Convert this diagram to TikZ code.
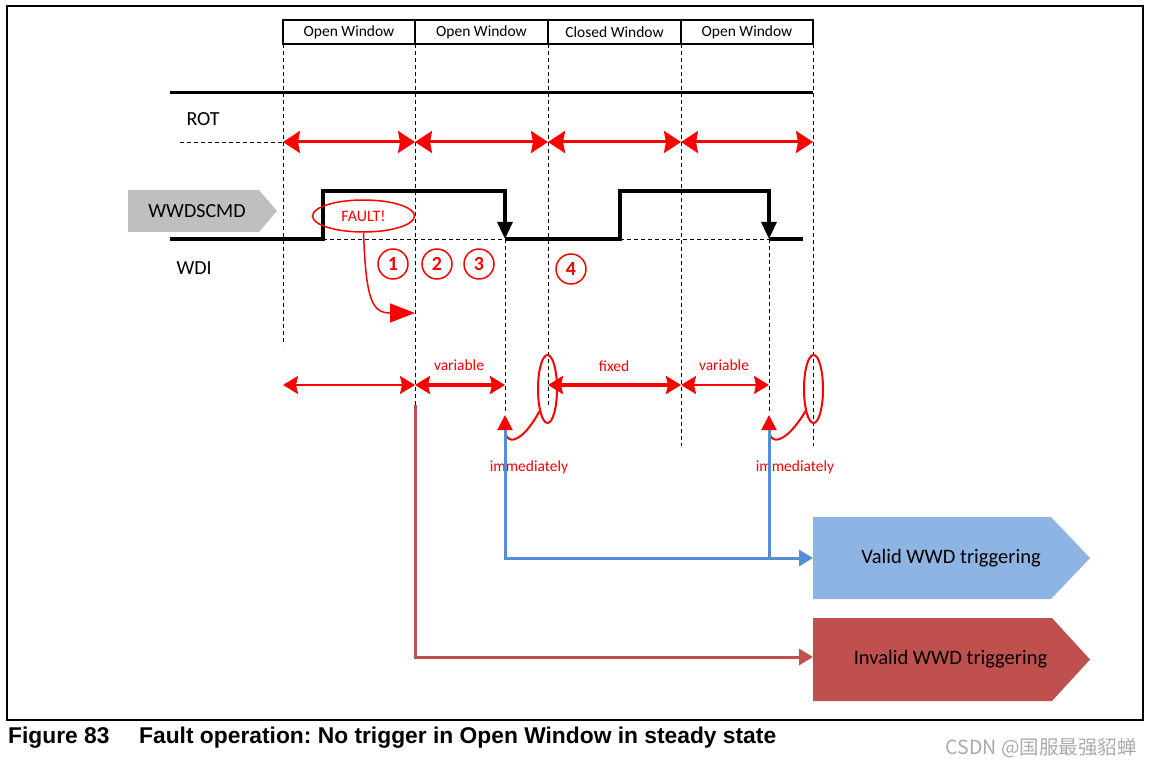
\documentclass[tikz,border=0pt]{standalone}
\usepackage{fontspec}
\setmainfont{Carlito}
\newfontfamily\capfont{Liberation Sans}
\newfontfamily\cjkfont{Noto Sans CJK SC}
\usetikzlibrary{arrows.meta,shapes.geometric}
\definecolor{wwdgrey}{RGB}{191,191,191}
\definecolor{validfill}{RGB}{142,180,227}
\definecolor{invalidfill}{RGB}{192,80,77}
\definecolor{blueline}{RGB}{85,142,213}
\definecolor{redline}{RGB}{192,80,77}
\definecolor{wmgrey}{RGB}{170,170,170}
\frenchspacing
\tikzset{
  dashln/.style={line width=0.9pt,dash pattern=on 4pt off 3pt},
  sig/.style={line width=3.2pt,line join=miter},
  sigarrow/.style={sig,-{Triangle[length=17pt,width=15pt]}},
  toparrow/.style={red,line width=3pt,{Stealth[length=17pt,width=22pt,inset=2pt]}-{Stealth[length=17pt,width=22pt,inset=2pt]}},
  thickdbl/.style={red,line width=4pt,{Stealth[length=15pt,width=18pt,inset=2pt]}-{Stealth[length=15pt,width=18pt,inset=2pt]}},
  thindbl/.style={red,line width=2pt,{Stealth[length=15pt,width=18pt,inset=2pt]}-{Stealth[length=15pt,width=18pt,inset=2pt]}},
  numcirc/.style={circle,draw=red,line width=1.5pt,minimum size=30pt,inner sep=0pt,text=red,font=\fontsize{20}{22}\selectfont\bfseries},
  redlbl/.style={text=red,font=\fontsize{15.5}{18}\selectfont},
  hdr/.style={font=\fontsize{15.5}{18}\selectfont},
  siglbl/.style={font=\fontsize{20}{24}\selectfont,anchor=west},
  vell/.style={ellipse,draw=red,line width=2pt,minimum width=19pt,minimum height=68pt,inner sep=0pt},
  upcurve/.style={red,line width=2pt,-{Triangle[length=15pt,width=15pt]}},
  conn/.style={line width=3pt,-{Triangle[length=14pt,width=16pt]}},
  outbox/.style={font=\fontsize{20.5}{24}\selectfont},
  captxt/.style={anchor=west,font=\capfont\bfseries\fontsize{22.8}{26}\selectfont,inner sep=0pt}
}
\begin{document}
\begin{tikzpicture}[x=1pt,y=-1pt]
\useasboundingbox (0,0) rectangle (1152,767);
% frame
\draw[line width=1.3pt] (7,6) rectangle (1143,720);
% header table
\draw[line width=1.2pt] (283,20) rectangle (813,44);
\foreach \xx in {415,548,681} \draw[line width=1.2pt] (\xx,20) -- (\xx,44);
\node[hdr] (h1) at (349,32) {Open Window};
\node[hdr] (h2) at (481.5,32) {Open Window};
\node[hdr] (h3) at (614.5,32) {Closed Window};
\node[hdr] (h4) at (747,32) {Open Window};
% dashed verticals
\draw[dashln] (283,44) -- (283,345);
\draw[dashln] (415,44) -- (415,405);
\draw[dashln] (548,44) -- (548,405);
\draw[dashln] (681,44) -- (681,446);
\draw[dashln] (813,44) -- (813,446);
\draw[dashln] (505,239) -- (505,413);
\draw[dashln] (769,239) -- (769,413);
% ROT
\draw[line width=3pt] (170,93) -- (813,93);
\node[siglbl] (rot) at (183,119) {ROT};
\draw[dashln] (180,142) -- (283,142);
\coordinate (t0) at (283,142);
\coordinate (t1) at (415,142);
\coordinate (t2) at (548,142);
\coordinate (t3) at (681,142);
\coordinate (t4) at (813,142);
\draw[toparrow] (t0) -- (t1);
\draw[toparrow] (t1) -- (t2);
\draw[toparrow] (t2) -- (t3);
\draw[toparrow] (t3) -- (t4);
% WWDSCMD pentagon
\fill[wwdgrey] (128,190) -- (259,190) -- (277,211) -- (259,232) -- (128,232) -- cycle;
\node[font=\fontsize{20}{24}\selectfont] (wwd) at (197,211) {WWDSCMD};
% WDI signal
\draw[dashln] (323,239) -- (505,239);
\draw[dashln] (620,239) -- (769,239);
\coordinate (s0) at (170,239);
\coordinate (s1) at (323,239);
\coordinate (s2) at (323,191);
\coordinate (s3) at (505,191);
\coordinate (s4) at (505,239);
\coordinate (s5) at (620,239);
\coordinate (s6) at (620,191);
\coordinate (s7) at (769,191);
\coordinate (s8) at (769,239);
\coordinate (s9) at (803,239);
\draw[sigarrow] (s0) -- (s1) -- (s2) -- (s3) -- (s4);
\draw[sigarrow] (s4) -- (s5) -- (s6) -- (s7) -- (s8);
\draw[sig] (s8) -- (s9);
\node[siglbl] (wdi) at (173,268) {WDI};
% FAULT
\node[ellipse,draw=red,line width=1.5pt,minimum width=102pt,minimum height=32pt,inner sep=0pt,text=red,font=\fontsize{16}{18}\selectfont] (fault) at (363.5,216) {FAULT!};
\coordinate (fend) at (415,313);
\draw[red,line width=1.5pt,-{Triangle[length=25pt,width=19pt]}] (fault.south) .. controls (366,300) and (372,313) .. (fend);
% numbers
\node[numcirc] (n1) at (393,264) {1};
\node[numcirc] (n2) at (437,264) {2};
\node[numcirc] (n3) at (479,264) {3};
\node[numcirc] (n4) at (571,269) {4};
% bottom arrows
\coordinate (b0) at (283,385);
\coordinate (b1) at (415,385);
\coordinate (b2) at (505,385);
\coordinate (b3) at (548,385);
\coordinate (b4) at (681,385);
\coordinate (b5) at (769,385);
\draw[thindbl] (b0) -- (b1);
\draw[thickdbl] (b1) -- (b2);
\draw[thickdbl] (b3) -- (b4);
\draw[thindbl] (b4) -- (b5);
\node[redlbl] (var1) at (459,365) {variable};
\node[redlbl] (fix) at (614,366) {fixed};
\node[redlbl] (var2) at (724,365) {variable};
\node[vell] (e1) at (547.5,389) {};
\node[vell] (e2) at (813.5,389) {};
\coordinate (u1) at (505,415);
\coordinate (u2) at (769,415);
\draw[upcurve] (e1.250) .. controls (522,444) and (505,446) .. (u1);
\draw[upcurve] (e2.250) .. controls (786,444) and (769,446) .. (u2);
\node[redlbl] (imm1) at (529,467) {immediately};
\node[redlbl] (imm2) at (795,467) {immediately};
% output boxes
\fill[validfill] (813,517) -- (1051,517) -- (1090,558) -- (1051,599) -- (813,599) -- cycle;
\node[outbox] (valid) at (951,558) {Valid WWD triggering};
\fill[invalidfill] (813,618) -- (1052,618) -- (1090,659.5) -- (1052,701) -- (813,701) -- cycle;
\node[outbox] (invalid) at (950.5,659.5) {Invalid WWD triggering};
\coordinate (vin) at (813,558);
\coordinate (iin) at (813,657);
% connectors
\draw[blueline,conn] (505,430) |- (vin);
\draw[blueline,line width=3pt] (769,430) -- (769,558);
\draw[redline,conn] (415,405) |- (iin);
% caption
\node[captxt] (fig) at (8,738) {Figure 83};
\node[captxt] (cap) at (139,738) {Fault operation: No trigger in Open Window in steady state};
\node[anchor=east,font=\cjkfont\fontsize{19.5}{22}\selectfont,text=wmgrey,inner sep=0pt] (wm) at (1137,748) {CSDN @国服最强貂蝉};
\end{tikzpicture}
\end{document}
